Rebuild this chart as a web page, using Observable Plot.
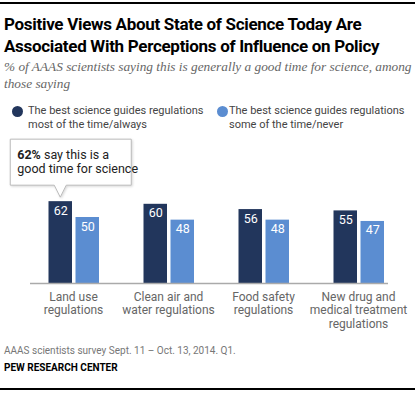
<!DOCTYPE html>
<html>
<head>
<meta charset="utf-8">
<script src="https://cdn.jsdelivr.net/npm/d3@7"></script>
<script src="https://cdn.jsdelivr.net/npm/@observablehq/plot@0.6"></script>
<style>
  html, body { margin: 0; padding: 0; background: #fff; overflow: hidden; width: 419px; height: 393px; }
  #page { position: relative; width: 419px; height: 393px; overflow: hidden; font-family: Roboto, "Liberation Sans", sans-serif; }
  .abs { position: absolute; }
  #topline { left: 0; top: 2px; width: 415px; height: 2px; background: #000; }
  #botline { left: 0; top: 388px; width: 415px; height: 2px; background: #000; }
  #title { left: 4px; top: 13px; width: 414px; font-weight: 700; font-size: 17px; letter-spacing: -0.3px; line-height: 22px; color: #000; }
  #subtitle { left: 4px; top: 58px; width: 414px; font-family: "Liberation Serif", serif; font-style: italic; font-size: 13.3px; line-height: 17px; color: #666; }
  .leg { font-size: 11px; line-height: 14px; color: #444; white-space: pre; }
  .dot { position: absolute; width: 11px; height: 11px; border-radius: 50%; }
  #chart { left: 0; top: 133px; width: 419px; height: 200px; }
  #caption { left: 4px; top: 345px; font-size: 10px; color: #777; white-space: nowrap; }
  #source { left: 4px; top: 362px; font-size: 10px; font-weight: 700; color: #000; white-space: nowrap; }
</style>
</head>
<body>
<div id="page">
  <div id="topline" class="abs"></div>
  <div id="title" class="abs">Positive Views About State of Science Today Are Associated With Perceptions of Influence on Policy</div>
  <div id="subtitle" class="abs">% of AAAS scientists saying this is generally a good time for science, among those saying</div>
  <div id="legend"></div>
  <div id="chart" class="abs"></div>
  <div id="caption" class="abs">AAAS scientists survey Sept. 11 – Oct. 13, 2014. Q1.</div>
  <div id="source" class="abs">PEW RESEARCH CENTER</div>
  <div id="botline" class="abs"></div>
</div>
<script>
// ---- data ----
const categories = [
  "Land use\nregulations",
  "Clean air and\nwater regulations",
  "Food safety\nregulations",
  "New drug and\nmedical treatment\nregulations"
];
const seriesNames = [
  "The best science guides regulations\nmost of the time/always",
  "The best science guides regulations\nsome of the time/never"
];
const mostAlways = [62, 60, 56, 55];
const someNever = [50, 48, 48, 47];
const seriesColors = ["#22365c", "#5b8dd1"];
const calloutBold = "62%";
const calloutText = [" say this is a", "good time for science"];

// ---- legend ----
const legend = document.getElementById("legend");
const legPos = [{dot: 12, text: 28}, {dot: 217, text: 229}];
seriesNames.forEach((name, i) => {
  const d = document.createElement("div");
  d.className = "dot";
  d.style.left = legPos[i].dot + "px";
  d.style.top = "106px";
  d.style.background = seriesColors[i];
  legend.appendChild(d);
  const t = document.createElement("div");
  t.className = "abs leg";
  t.style.left = legPos[i].text + "px";
  t.style.top = "104px";
  t.textContent = name;
  legend.appendChild(t);
});

// ---- table ----
const rows = categories.map((c, i) => ({category: c, most: mostAlways[i], some: someNever[i]}));

const plot = Plot.plot({
  width: 419,
  height: 200,
  marginTop: 18,
  marginBottom: 50,
  marginLeft: 30,
  marginRight: 31,
  style: {fontFamily: "Roboto, 'Liberation Sans', sans-serif", background: "transparent", overflow: "visible"},
  x: {domain: categories, paddingInner: 0.37, paddingOuter: 0.0625, align: 1, axis: null},
  y: {domain: [0, 100], axis: null},
  marks: [
    Plot.barY(rows, {x: "category", y: "most", fill: seriesColors[0], insetLeft: 5.5, insetRight: 31}),
    Plot.barY(rows, {x: "category", y: "some", fill: seriesColors[1], insetLeft: 32.5, insetRight: 4}),
    Plot.text(rows, {x: "category", y: "most", text: d => String(d.most), dx: -12.75, dy: 9, fill: "#fff", fontSize: 12.5}),
    Plot.text(rows, {x: "category", y: "some", text: d => String(d.some), dx: 14.25, dy: 9, fill: "#fff", fontSize: 12.5}),
    Plot.ruleY([0], {stroke: "#aaa", strokeWidth: 1.5}),
    Plot.text(rows, {x: "category", y: 0, text: "category", dy: 8, lineAnchor: "top", lineHeight: 1.12, fill: "#666", fontSize: 12})
  ]
});
document.getElementById("chart").appendChild(plot);

// ---- callout anchored on the first bar via the plot's scales ----
const xs = plot.scale("x"), ys = plot.scale("y");
const svg = d3.select(plot);
const px = xs.apply(categories[0]) + 5.5 + (xs.bandwidth - 5.5 - 31) / 2;
const py = ys.apply(mostAlways[0]);
const boxW = 121, boxH = 46;
const bx = px - 50, by = py - 16 - boxH, tipY = py - 4, bBottom = by + boxH;
const g = svg.append("g").attr("text-anchor", "start");
g.append("path")
  .attr("d", `M${bx},${by}H${bx + boxW}V${bBottom}H${px + 6}L${px},${tipY}L${px - 6},${bBottom}H${bx}Z`)
  .attr("fill", "#fff").attr("stroke", "#bbb").attr("stroke-width", 1)
  .style("filter", "drop-shadow(1px 1px 1px rgba(0,0,0,0.15))");
const t1 = g.append("text").attr("x", bx + 7).attr("y", by + 20).attr("font-size", 12.5).attr("fill", "#222");
t1.append("tspan").attr("font-weight", 700).text(calloutBold);
t1.append("tspan").text(calloutText[0]);
g.append("text").attr("x", bx + 7).attr("y", by + 34).attr("font-size", 12.5).attr("fill", "#222").text(calloutText[1]);
</script>
</body>
</html>
